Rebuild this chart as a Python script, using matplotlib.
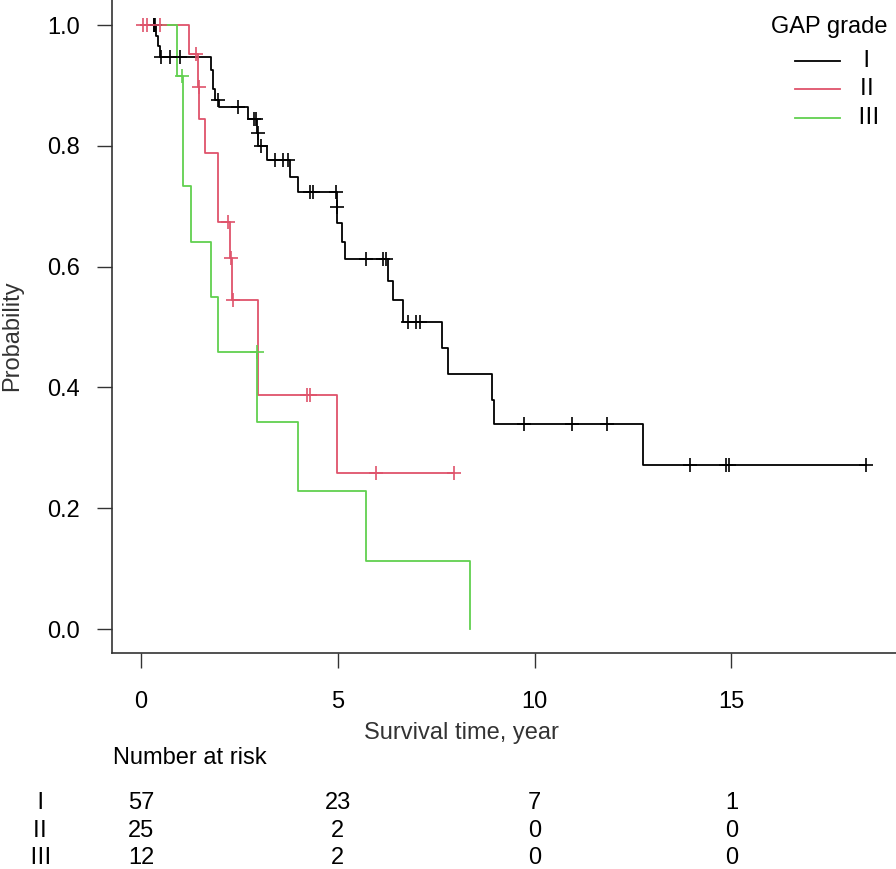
import matplotlib
matplotlib.use("Agg")
import matplotlib.pyplot as plt
import matplotlib.transforms as mtransforms
from matplotlib.lines import Line2D

plt.rcParams['font.family'] = ['Liberation Sans', 'Noto Sans CJK SC', 'DejaVu Sans']

# --- Kaplan-Meier steps (time in years, survival) ---
grade_I_t = [0, 0.38, 0.43, 0.48, 1.79, 1.83, 1.88, 1.97, 2.72, 2.94, 2.98, 3.19,
             3.78, 3.98, 4.97, 4.99, 5.10, 5.18, 6.28, 6.41, 6.65, 7.64, 7.81,
             8.92, 8.97, 12.76, 18.43]
grade_I_s = [1.0, 0.982, 0.965, 0.947, 0.925, 0.894, 0.876, 0.864, 0.844, 0.821,
             0.799, 0.776, 0.749, 0.724, 0.698, 0.672, 0.640, 0.612, 0.577, 0.544,
             0.509, 0.466, 0.423, 0.379, 0.339, 0.272, 0.272]
cens_I_t = [0.32, 0.34, 0.36, 0.50, 0.74, 1.00, 1.95, 2.46, 2.88, 2.93, 2.97, 3.06,
            3.41, 3.60, 3.74, 4.30, 4.36, 4.96, 4.97, 5.71, 6.15, 6.22, 6.79, 6.98,
            7.09, 9.73, 10.96, 11.83, 13.94, 14.85, 14.93, 18.43]
cens_I_s = [1.0, 1.0, 1.0, 0.947, 0.947, 0.947, 0.876, 0.864, 0.844, 0.844, 0.821,
            0.799, 0.776, 0.776, 0.776, 0.724, 0.724, 0.724, 0.698, 0.612, 0.612,
            0.612, 0.509, 0.509, 0.509, 0.339, 0.339, 0.339, 0.272, 0.272, 0.272,
            0.272]

grade_II_t = [0, 1.23, 1.45, 1.48, 1.63, 1.96, 2.27, 2.31, 2.96, 4.97, 7.96]
grade_II_s = [1.0, 0.952, 0.897, 0.845, 0.788, 0.674, 0.614, 0.545, 0.387, 0.259, 0.259]
cens_II_t = [0.04, 0.14, 0.48, 1.40, 1.47, 2.22, 2.29, 2.33, 4.21, 4.29, 5.96, 7.96]
cens_II_s = [1.0, 1.0, 1.0, 0.952, 0.897, 0.674, 0.614, 0.545, 0.387, 0.387, 0.259, 0.259]

grade_III_t = [0, 0.92, 1.06, 1.26, 1.77, 1.96, 2.95, 3.98, 5.71, 8.36]
grade_III_s = [1.0, 0.916, 0.733, 0.640, 0.549, 0.458, 0.342, 0.228, 0.113, 0.0]
cens_III_t = [1.03, 2.95]
cens_III_s = [0.916, 0.458]

groups = ["Ⅰ", "Ⅱ", "Ⅲ"]
colors = ["black", "#DF536B", "#61D04F"]

risk_times = [0, 5, 10, 15]
risk_I = [57, 23, 7, 1]
risk_II = [25, 2, 0, 0]
risk_III = [12, 2, 0, 0]

W, H = 896, 869


def fx(px):
    return px / W


def fy(py):
    return 1 - py / H


fig = plt.figure(figsize=(W / 100, H / 100), dpi=100)
ax = fig.add_axes([fx(112), fy(653), fx(896) - fx(112), fy(0) - fy(653)])

curves = [(grade_I_t, grade_I_s, cens_I_t, cens_I_s),
          (grade_II_t, grade_II_s, cens_II_t, cens_II_s),
          (grade_III_t, grade_III_s, cens_III_t, cens_III_s)]
for (t, s, ct, cs), col in zip(curves, colors):
    ax.step(t, s, where="post", color=col, lw=1.3, zorder=3)
for (t, s, ct, cs), col in zip(curves, colors):
    ax.plot(ct, cs, "+", color=col, ms=10.5, mew=1.2, zorder=4)

ax.set_xlim(-0.737, 19.18)
ax.set_ylim(-0.0397, 1.0414)
for side in ("top", "right"):
    ax.spines[side].set_visible(False)
for side in ("left", "bottom"):
    ax.spines[side].set_color("#333333")
    ax.spines[side].set_linewidth(1.2)

ax.set_xticks(risk_times)
ax.set_yticks([0.0, 0.2, 0.4, 0.6, 0.8, 1.0])
ax.set_yticklabels(["0.0", "0.2", "0.4", "0.6", "0.8", "1.0"])
ax.tick_params(axis="both", direction="out", length=11, width=1.0,
               color="#333333", labelsize=17)
ax.tick_params(axis="y", pad=12)
ax.tick_params(axis="x", pad=16)

fig.text(fx(461), fy(733), "Survival time, year", ha="center", va="center",
         fontsize=17, color="#333333")
fig.text(fx(12), fy(336), "Probability", ha="center", va="center",
         rotation=90, fontsize=17, color="#333333")

# legend drawn by hand to sit where R put it
fig.text(fx(829), fy(27), "GAP grade", ha="center", va="center", fontsize=17)
for i, (g, col) in enumerate(zip(groups, colors)):
    yy = fy(61 + 28.3 * i)
    fig.add_artist(Line2D([fx(795), fx(840)], [yy, yy], color=col, lw=1.3,
                          transform=fig.transFigure))
    fig.text(fx(866 + i), yy, g, ha="center", va="center", fontsize=17)

# number-at-risk table under the axis
blend = mtransforms.blended_transform_factory(ax.transData, fig.transFigure)
fig.text(fx(113), fy(758), "Number at risk", ha="left", va="center", fontsize=17)
for i, (g, row) in enumerate(zip(groups, [risk_I, risk_II, risk_III])):
    yy = fy([803, 831, 858][i])
    fig.text(fx(40), yy, g, ha="center", va="center", fontsize=17)
    for t, n in zip(risk_times, row):
        ax.text(t, yy, str(n), transform=blend, ha="center", va="center",
                fontsize=17, clip_on=False)

fig.savefig("out.png", dpi=100)
